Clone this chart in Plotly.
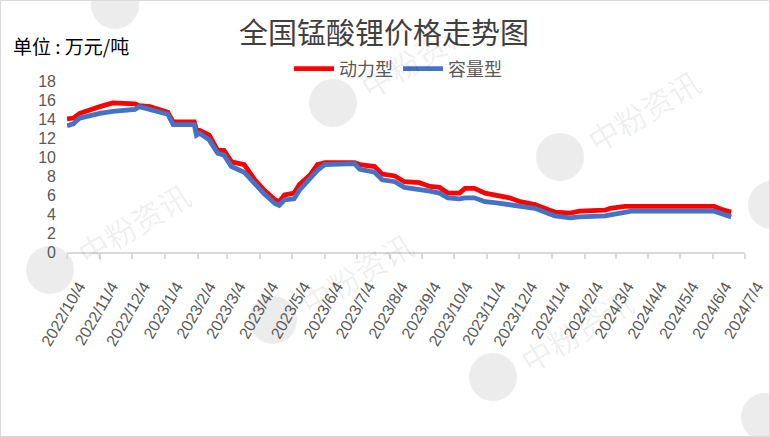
import plotly.graph_objects as go

# ---- data ----
dates = ["2022-10-04", "2022-10-10", "2022-10-16", "2022-10-26", "2022-11-04", "2022-11-16",
         "2022-11-28", "2022-12-07", "2022-12-11", "2022-12-21", "2022-12-30", "2023-01-07",
         "2023-01-12", "2023-02-01", "2023-02-03", "2023-02-06", "2023-02-15", "2023-02-23",
         "2023-03-01", "2023-03-08", "2023-03-20", "2023-03-30", "2023-04-08", "2023-04-18",
         "2023-04-22", "2023-04-27", "2023-05-06", "2023-05-11", "2023-05-21", "2023-05-28",
         "2023-06-04", "2023-07-02", "2023-07-07", "2023-07-21", "2023-07-28", "2023-08-09",
         "2023-08-18", "2023-09-01", "2023-09-11", "2023-09-20", "2023-09-28", "2023-10-09",
         "2023-10-14", "2023-10-23", "2023-11-02", "2023-11-11", "2023-11-25", "2023-12-05",
         "2023-12-19", "2024-01-02", "2024-01-07", "2024-01-21", "2024-01-30", "2024-02-23",
         "2024-02-28", "2024-03-13", "2024-03-19", "2024-06-05", "2024-06-14", "2024-06-21"]
dongli = [14.0, 14.1, 14.6, 15.0, 15.3, 15.7, 15.7, 15.6, 15.4, 15.3, 15.0, 14.7,
          13.7, 13.7, 12.8, 12.8, 12.3, 10.7, 10.7, 9.5, 9.2, 7.6, 6.5, 5.5,
          5.3, 6.0, 6.2, 7.1, 8.1, 9.2, 9.4, 9.4, 9.2, 9.0, 8.2, 8.0,
          7.4, 7.3, 6.9, 6.8, 6.2, 6.2, 6.7, 6.7, 6.2, 6.0, 5.7, 5.3,
          5.0, 4.4, 4.2, 4.1, 4.3, 4.4, 4.6, 4.8, 4.8, 4.8, 4.4, 4.2]
rongliang = [13.3, 13.5, 14.1, 14.4, 14.6, 14.8, 14.9, 15.0, 15.3, 15.0, 14.8, 14.5,
             13.4, 13.4, 12.3, 12.5, 11.8, 10.4, 10.2, 9.0, 8.4, 7.1, 6.1, 5.1,
             4.9, 5.5, 5.6, 6.5, 7.7, 8.6, 9.2, 9.3, 8.7, 8.4, 7.6, 7.4,
             6.8, 6.6, 6.4, 6.2, 5.7, 5.6, 5.7, 5.7, 5.3, 5.2, 5.0, 4.9,
             4.6, 4.0, 3.8, 3.6, 3.7, 3.8, 3.9, 4.2, 4.3, 4.3, 3.9, 3.7]

tick_dates = ["2022-10-04", "2022-11-04", "2022-12-04", "2023-01-04", "2023-02-04", "2023-03-04",
              "2023-04-04", "2023-05-04", "2023-06-04", "2023-07-04", "2023-08-04", "2023-09-04",
              "2023-10-04", "2023-11-04", "2023-12-04", "2024-01-04", "2024-02-04", "2024-03-04",
              "2024-04-04", "2024-05-04", "2024-06-04", "2024-07-04"]
tick_text = ["2022/10/4", "2022/11/4", "2022/12/4", "2023/1/4", "2023/2/4", "2023/3/4",
             "2023/4/4", "2023/5/4", "2023/6/4", "2023/7/4", "2023/8/4", "2023/9/4",
             "2023/10/4", "2023/11/4", "2023/12/4", "2024/1/4", "2024/2/4", "2024/3/4",
             "2024/4/4", "2024/5/4", "2024/6/4", "2024/7/4"]
y_ticks = [0, 2, 4, 6, 8, 10, 12, 14, 16, 18]

# ---- geometry helpers (pixel -> paper) ----
W, H = 770, 437
L, R, T, B = 67, 25, 81, 185
PW, PH = W - L - R, H - T - B


def px(x):
    return (x - L) / PW


def py(y):
    return (H - B - y) / PH


CJK = "Noto Sans CJK SC, Microsoft YaHei, sans-serif"
TXT = "#595959"

fig = go.Figure()
fig.add_trace(go.Scatter(x=dates, y=dongli, name="动力型", mode="lines",
                         line=dict(color="#FF0000", width=4.8)))
fig.add_trace(go.Scatter(x=dates, y=rongliang, name="容量型", mode="lines",
                         line=dict(color="#4472C4", width=4.8)))

shapes = []
annotations = []

# watermark (faint logos; text only where it fits inside the picture)
logos = [(115, 5, False), (333, 103, True), (560, 157, True), (772, 205, False),
         (50, 270, True), (273, 320, True), (493, 377, True), (765, 417, False)]
for (lx, ly, with_text) in logos:
    r = 24
    shapes.append(dict(type="circle", xref="paper", yref="paper",
                       x0=px(lx - r), x1=px(lx + r), y0=py(ly + r), y1=py(ly - r),
                       fillcolor="rgba(0,0,0,0.075)", line=dict(width=0), layer="below"))
    if with_text:
        annotations.append(dict(text="中粉资讯", xref="paper", yref="paper",
                                x=px(lx + 83), y=py(ly - 47), showarrow=False, textangle=-31,
                                font=dict(family=CJK, size=31, color="rgba(0,0,0,0.07)"),
                                xanchor="center", yanchor="middle"))

# outer border
shapes.append(dict(type="rect", xref="paper", yref="paper",
                   x0=px(0.5), x1=px(769.5), y0=py(436.5), y1=py(0.5),
                   line=dict(color="#D9D9D9", width=1), fillcolor="rgba(0,0,0,0)"))

annotations.append(dict(text="单位 : 万元/吨", xref="paper", yref="paper",
                        x=px(11), y=py(45), xanchor="left", yanchor="middle",
                        showarrow=False, font=dict(family=CJK, size=19, color="#000000")))

fig.update_layout(
    width=W, height=H,
    margin=dict(l=L, r=R, t=T, b=B, pad=0, autoexpand=False),
    paper_bgcolor="white", plot_bgcolor="white",
    title=dict(text="全国锰酸锂价格走势图", x=0.4987, xref="container", xanchor="center",
               y=1 - 34 / H, yref="container", yanchor="middle",
               font=dict(family=CJK, size=29, color="#404040")),
    legend=dict(orientation="h", x=px(398), xanchor="center", y=py(69), yanchor="middle",
                font=dict(family=CJK, size=18, color=TXT), bgcolor="rgba(0,0,0,0)",
                itemwidth=40, tracegroupgap=0),
    xaxis=dict(type="date", range=["2022-10-04", "2024-07-04"], automargin=False,
               tickvals=tick_dates, ticktext=tick_text, tickangle=-60,
               ticklabelshift=12, ticklabelstandoff=12,
               tickfont=dict(family="Liberation Sans, Arial, sans-serif", size=16, color=TXT),
               showgrid=False, zeroline=False, showline=True, linecolor="#D9D9D9", linewidth=1.5,
               ticks="outside", ticklen=5, tickcolor="#D9D9D9", tickwidth=1.5),
    yaxis=dict(range=[0, 18], tickvals=y_ticks, showgrid=False, zeroline=False, showline=False,
               automargin=False,
               tickfont=dict(family="Liberation Sans, Arial, sans-serif", size=16, color=TXT),
               ticks="", ticklabelstandoff=10),
    shapes=shapes,
    annotations=annotations,
    showlegend=True,
)

fig.write_html("out.html", config={"displayModeBar": False},
               post_script="document.body.style.margin='0';")
